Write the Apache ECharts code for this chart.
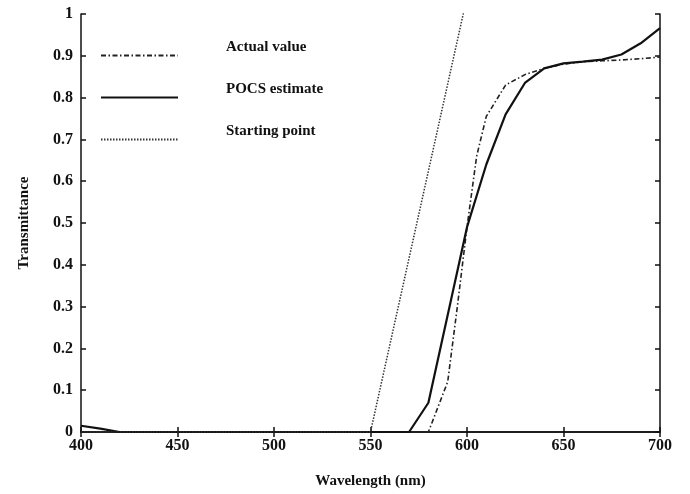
<!DOCTYPE html>
<html>
<head>
<meta charset="utf-8">
<script src="https://cdn.jsdelivr.net/npm/echarts@6/dist/echarts.min.js"></script>
<style>
html,body{margin:0;padding:0;background:#fff;}
#chart{width:690px;height:494px;}
</style>
</head>
<body>
<div id="chart"></div>
<script>
// Data
const actualWl = [400, 580, 590, 595, 600, 605, 610, 620, 630, 640, 650, 660, 670, 680, 690, 700];
const actualVal = [0, 0, 0.12, 0.30, 0.49, 0.66, 0.755, 0.83, 0.855, 0.87, 0.88, 0.886, 0.888, 0.89, 0.893, 0.897];

const pocsWl = [400, 410, 420, 570, 580, 590, 600, 610, 620, 630, 640, 650, 660, 670, 680, 690, 700];
const pocsVal = [0.015, 0.008, 0, 0, 0.07, 0.28, 0.49, 0.64, 0.76, 0.835, 0.87, 0.882, 0.886, 0.891, 0.903, 0.93, 0.966];

const startWl = [400, 550, 599];
const startVal = [0, 0, 1.02];

const seriesNames = ['Actual value', 'POCS estimate', 'Starting point'];
const xTicks = [400, 450, 500, 550, 600, 650, 700];
const yTicks = [0, 0.1, 0.2, 0.3, 0.4, 0.5, 0.6, 0.7, 0.8, 0.9, 1];

function pairs(xs, ys) { return xs.map((x, i) => [x, ys[i]]); }

const FONT = '"Liberation Serif", "DejaVu Serif", serif';
const INK = '#111';

const chart = echarts.init(document.getElementById('chart'), null, {renderer: 'canvas'});

function legendAt(name, top) {
  return {
    data: [name],
    left: 95,
    top: top,
    orient: 'vertical',
    itemWidth: 77,
    itemHeight: 12,
    selectedMode: false,
    itemStyle: {opacity: 0},
    formatter: function (n) { return '{t|' + n + '}\n{s| }'; },
    textStyle: {
      fontFamily: FONT, fontSize: 15, fontWeight: 'bold', color: INK,
      padding: [0, 0, 0, 43],
      rich: {
        t: {fontFamily: FONT, fontSize: 15, fontWeight: 'bold', color: INK, lineHeight: 16},
        s: {fontSize: 15, lineHeight: 16}
      }
    }
  };
}

const axisCommon = {
  type: 'value',
  axisLine: {show: true, lineStyle: {color: INK, width: 1.5}},
  axisTick: {show: true, inside: true, length: 5, lineStyle: {color: INK, width: 1.5}},
  splitLine: {show: false}
};

chart.setOption({
  animation: false,
  backgroundColor: '#fff',
  grid: {left: 81, right: 30, top: 14, bottom: 62},
  legend: [
    legendAt(seriesNames[0], 55 - 20),
    legendAt(seriesNames[1], 97 - 20),
    legendAt(seriesNames[2], 139 - 20)
  ],
  xAxis: [
    Object.assign({}, axisCommon, {
      min: xTicks[0], max: xTicks[xTicks.length - 1], interval: 50,
      name: 'Wavelength (nm)', nameLocation: 'middle', nameGap: 42,
      nameTextStyle: {fontFamily: FONT, fontSize: 15, fontWeight: 'bold', color: INK},
      axisLabel: {fontFamily: FONT, fontSize: 16, fontWeight: 'bold', color: INK, margin: 6}
    }),
    Object.assign({}, axisCommon, {
      position: 'top', min: xTicks[0], max: xTicks[xTicks.length - 1], interval: 50,
      axisLabel: {show: false}
    })
  ],
  yAxis: [
    Object.assign({}, axisCommon, {
      min: yTicks[0], max: yTicks[yTicks.length - 1], interval: 0.1,
      name: 'Transmittance', nameLocation: 'middle', nameGap: 49,
      nameTextStyle: {fontFamily: FONT, fontSize: 15, fontWeight: 'bold', color: INK},
      axisLabel: {fontFamily: FONT, fontSize: 16, fontWeight: 'bold', color: INK, margin: 8}
    }),
    Object.assign({}, axisCommon, {
      position: 'right', min: yTicks[0], max: yTicks[yTicks.length - 1], interval: 0.1,
      axisLabel: {show: false}
    })
  ],
  series: [
    {
      name: seriesNames[0], type: 'line', symbol: 'none', clip: true,
      data: pairs(actualWl, actualVal),
      lineStyle: {color: '#222', width: 1.6, type: [5, 2.5, 1.5, 2.5]},
      itemStyle: {color: '#222'}
    },
    {
      name: seriesNames[1], type: 'line', symbol: 'none', clip: true,
      data: pairs(pocsWl, pocsVal),
      lineStyle: {color: '#111', width: 2.2, type: 'solid'},
      itemStyle: {color: '#111'}
    },
    {
      name: seriesNames[2], type: 'line', symbol: 'none', clip: true,
      data: pairs(startWl, startVal),
      lineStyle: {color: '#333', width: 1.5, type: [1.5, 1.5]},
      itemStyle: {color: '#333'}
    }
  ]
});
</script>
</body>
</html>
